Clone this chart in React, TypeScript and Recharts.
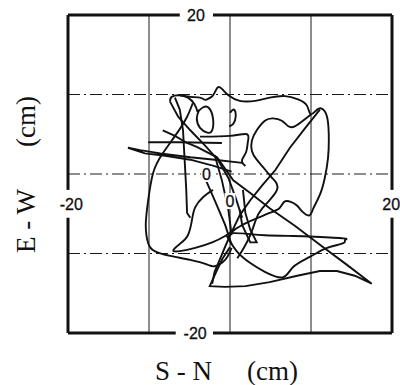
import { LineChart, Line, XAxis, YAxis, ReferenceLine, ReferenceDot } from "recharts";

// trajectory of the displacement, split into the strokes (cm)
const topArcRightLobe = [
  { x: -3.1, y: 9.3 }, { x: -2.1, y: 9.9 }, { x: -1.5, y: 10.9 }, { x: -0.9, y: 10.6 },
  { x: -0.2, y: 9.9 }, { x: 1.2, y: 9.2 }, { x: 3.1, y: 9.2 }, { x: 4.9, y: 9.6 },
  { x: 6.8, y: 9.8 }, { x: 8.4, y: 9.4 }, { x: 9.5, y: 8.6 }, { x: 10.0, y: 7.5 },
  { x: 10.9, y: 8.2 }, { x: 11.7, y: 7.9 }, { x: 12.1, y: 6.5 }, { x: 12.2, y: 4.3 },
  { x: 12.1, y: 2.0 }, { x: 11.7, y: -0.5 }, { x: 11.1, y: -2.6 }, { x: 10.3, y: -4.3 },
  { x: 9.8, y: -5.2 }, { x: 9.0, y: -4.8 }, { x: 8.3, y: -4.0 }, { x: 7.5, y: -3.5 },
  { x: 6.7, y: -3.5 }, { x: 6.1, y: -4.3 }, { x: 4.9, y: -4.9 }, { x: 3.5, y: -5.5 },
  { x: 1.9, y: -6.2 }, { x: 0.2, y: -7.2 },
];

const innerWave = [
  { x: 10.0, y: 7.5 }, { x: 9.0, y: 6.7 }, { x: 8.0, y: 6.0 }, { x: 7.2, y: 6.0 },
  { x: 6.4, y: 6.7 }, { x: 5.3, y: 7.0 }, { x: 4.3, y: 6.7 }, { x: 3.3, y: 5.5 },
  { x: 2.7, y: 4.2 }, { x: 2.7, y: 2.9 }, { x: 3.3, y: 1.8 }, { x: 4.3, y: 0.6 },
  { x: 5.2, y: -0.5 }, { x: 5.8, y: -2.0 }, { x: 4.0, y: -4.3 }, { x: 3.1, y: -6.0 },
  { x: 2.5, y: -7.7 }, { x: 1.7, y: -9.3 }, { x: 0.9, y: -10.6 },
];

const lobeDiagonal = [
  { x: 11.1, y: 8.1 }, { x: 9.3, y: 5.8 }, { x: 7.4, y: 3.3 }, { x: 5.6, y: 0.5 },
  { x: 4.0, y: -1.4 }, { x: 2.5, y: -3.3 }, { x: 1.2, y: -5.2 }, { x: 0.2, y: -7.3 },
  { x: -0.5, y: -8.9 }, { x: -1.2, y: -10.6 }, { x: -1.9, y: -12.3 }, { x: -2.2, y: -13.8 },
];

const longDiagonal = [
  { x: -8.3, y: 5.5 }, { x: -6.8, y: 4.8 }, { x: -5.3, y: 3.9 }, { x: -4.1, y: 3.4 },
  { x: -1.6, y: 2.1 }, { x: 0.4, y: -0.8 }, { x: 2.5, y: -2.4 }, { x: 4.9, y: -4.3 },
  { x: 8.0, y: -6.5 }, { x: 11.1, y: -8.9 }, { x: 14.4, y: -11.4 }, { x: 17.5, y: -13.8 },
  { x: 15.4, y: -12.8 }, { x: 13.2, y: -12.2 }, { x: 11.1, y: -12.2 }, { x: 8.3, y: -12.8 },
  { x: 4.9, y: -13.6 }, { x: 1.9, y: -14.1 }, { x: -0.6, y: -14.2 }, { x: -2.5, y: -14.1 },
  { x: -1.6, y: -12.1 }, { x: -0.9, y: -10.6 }, { x: 0, y: -9.2 },
];

const fishRight = [
  { x: -0.4, y: -7.8 }, { x: 0.9, y: -9.8 }, { x: 2.5, y: -11.2 }, { x: 4.3, y: -12.3 },
  { x: 6.5, y: -13.0 }, { x: 7.8, y: -11.7 }, { x: 9.9, y: -10.4 }, { x: 12.0, y: -9.3 },
  { x: 14.0, y: -8.7 }, { x: 14.2, y: -8.3 }, { x: 14.0, y: -8.1 }, { x: 10.5, y: -7.9 },
  { x: 7.8, y: -7.8 }, { x: 4.3, y: -7.7 }, { x: 1.9, y: -7.5 }, { x: 0, y: -7.4 },
];

const leftLoop = [
  { x: -4.6, y: 8.9 }, { x: -5.3, y: 7.2 }, { x: -6.5, y: 5.2 }, { x: -8.3, y: 2.6 },
  { x: -9.5, y: 0.1 }, { x: -10.1, y: -3.3 }, { x: -10.4, y: -6.4 }, { x: -10.1, y: -8.7 },
  { x: -9.3, y: -9.7 }, { x: -7.4, y: -10.3 }, { x: -4.9, y: -10.8 }, { x: -2.8, y: -11.4 },
  { x: -1.9, y: -11.6 }, { x: -0.6, y: -10.8 }, { x: 0.2, y: -9.3 },
];

const fishLeft = [
  { x: -2.1, y: -2.0 }, { x: -3.3, y: -2.9 }, { x: -4.3, y: -4.2 }, { x: -4.7, y: -5.8 },
  { x: -5.2, y: -7.7 }, { x: -6.2, y: -8.8 }, { x: -7.0, y: -9.6 }, { x: -6.2, y: -9.7 },
  { x: -4.3, y: -9.3 }, { x: -2.2, y: -8.6 }, { x: -0.6, y: -7.8 }, { x: 0.6, y: -7.0 },
];

const leftVertical = [
  { x: -6.8, y: 9.6 }, { x: -6.2, y: 8.1 }, { x: -5.8, y: 5.5 }, { x: -5.6, y: 1.8 },
  { x: -5.4, y: -2.0 }, { x: -5.3, y: -4.9 }, { x: -4.9, y: -5.5 },
];

const topLeftLoop = [
  { x: -7.4, y: 9.1 }, { x: -7.2, y: 9.7 }, { x: -6.2, y: 9.9 }, { x: -5.2, y: 9.6 },
  { x: -4.4, y: 8.8 }, { x: -4.0, y: 7.8 },
];

const smallEllipse = [
  { x: -4.0, y: 7.8 }, { x: -3.3, y: 8.4 }, { x: -2.6, y: 8.3 }, { x: -2.1, y: 7.0 },
  { x: -2.2, y: 5.5 }, { x: -2.8, y: 5.2 }, { x: -3.7, y: 5.8 }, { x: -4.1, y: 7.0 },
  { x: -3.8, y: 8.1 },
];

const centreCrossing = [
  { x: -7.4, y: 9.1 }, { x: -6.4, y: 7.2 }, { x: -4.9, y: 5.5 }, { x: -3.1, y: 3.6 },
  { x: -1.5, y: 1.8 }, { x: -0.2, y: -0.5 }, { x: 0.7, y: -3.0 }, { x: 1.5, y: -5.5 },
];

const spike = [
  { x: 1.5, y: 1.4 }, { x: -1.9, y: 1.8 }, { x: -4.9, y: 2.1 }, { x: -8.6, y: 2.6 },
  { x: -11.1, y: 3.0 }, { x: -12.6, y: 3.3 }, { x: -10.5, y: 2.6 }, { x: -8.0, y: 2.3 },
  { x: -4.9, y: 1.8 }, { x: -1.9, y: 1.0 }, { x: 0.2, y: 0.3 },
];

const flatLeft = [{ x: -10.1, y: 4.0 }, { x: -6.2, y: 4.0 }, { x: -1.0, y: 3.9 }];

const boxHook = [
  { x: -3.7, y: 4.7 }, { x: 0, y: 4.8 }, { x: 2.1, y: 5.0 }, { x: 2.2, y: 4.0 },
  { x: 2.0, y: 2.8 }, { x: 1.5, y: 1.8 }, { x: 1.6, y: 1.3 }, { x: 1.9, y: 1.0 },
];

const smallBump = [
  { x: 0, y: 7.7 }, { x: 0.5, y: 8.1 }, { x: 0.7, y: 7.2 }, { x: 0.4, y: 6.3 }, { x: -0.1, y: 6.0 },
];

const earToLoop = [
  { x: -6.2, y: 9.9 }, { x: -4.9, y: 9.7 }, { x: -3.7, y: 9.6 }, { x: -3.1, y: 9.3 },
];

const centreLineA = [{ x: -3.1, y: -0.5 }, { x: -1.9, y: -3.3 }, { x: -0.6, y: -6.4 }, { x: 0.2, y: -8.9 }];
const centreLineB = [{ x: -1.9, y: 2.4 }, { x: -1.0, y: -0.8 }, { x: -0.2, y: -4.5 }, { x: 0.2, y: -7.7 }];

const triangle = [
  { x: 1.6, y: -2.0 }, { x: 1.9, y: -4.9 }, { x: 2.5, y: -7.0 }, { x: 3.3, y: -8.6 },
  { x: 2.5, y: -8.6 }, { x: 1.5, y: -6.4 }, { x: 1.2, y: -4.5 },
];

const curvedStrokes = [topArcRightLobe, innerWave, fishRight, leftLoop, fishLeft, topLeftLoop, smallEllipse, smallBump, boxHook, earToLoop];
const straightStrokes = [lobeDiagonal, longDiagonal, leftVertical, centreCrossing, spike, flatLeft, centreLineA, centreLineB, triangle];

const gridValues = [-10, 0, 10];

const tickLabels = [
  { x: -4.2, y: 20, text: "20" },
  { x: -4.3, y: -20, text: "-20" },
  { x: -19.6, y: -3.8, text: "-20" },
  { x: 19.9, y: -3.8, text: "20" },
  { x: 0, y: -3.4, text: "0" },
  { x: -2.9, y: 0, text: "0" },
];

function TickMark(props: any) {
  const { cx, cy, text } = props;
  const w = text.length * 9 + 2;
  return (
    <g>
      <rect x={cx - w / 2} y={cy - 8} width={w} height={16} fill="#fff" />
      <text x={cx} y={cy + 6} textAnchor="middle" fontSize={16} fill="#111"
        stroke="#111" strokeWidth={0.3}
        fontFamily="'Liberation Sans', Arial, sans-serif">{text}</text>
    </g>
  );
}

const frame = { stroke: "#111", strokeWidth: 3 };

export default function App() {
  return (
    <div style={{ position: "absolute", left: 0, top: 0, width: 400, height: 385, background: "#fff" }}>
      <LineChart width={400} height={385} margin={{ top: 15, right: 8, bottom: 52, left: 68 }}>
        <XAxis type="number" dataKey="x" domain={[-20, 20]} hide allowDataOverflow />
        <YAxis type="number" dataKey="y" domain={[-20, 20]} hide allowDataOverflow />
        {gridValues.map((v) => (
          <ReferenceLine key={"v" + v} x={v} stroke="#1a1a1a" strokeWidth={1} />
        ))}
        {gridValues.map((v) => (
          <ReferenceLine key={"h" + v} y={v} stroke="#1a1a1a" strokeWidth={1} strokeDasharray="12 4 2 4" />
        ))}
        <ReferenceLine segment={[{ x: -20, y: 20 }, { x: -6.2, y: 20 }]} {...frame} />
        <ReferenceLine segment={[{ x: -2.1, y: 20 }, { x: 20, y: 20 }]} {...frame} />
        <ReferenceLine segment={[{ x: -20, y: -20 }, { x: -6.7, y: -20 }]} {...frame} />
        <ReferenceLine segment={[{ x: -2.1, y: -20 }, { x: 20, y: -20 }]} {...frame} />
        <ReferenceLine segment={[{ x: -20, y: 20 }, { x: -20, y: -2.0 }]} {...frame} />
        <ReferenceLine segment={[{ x: -20, y: -5.5 }, { x: -20, y: -20 }]} {...frame} />
        <ReferenceLine segment={[{ x: 20, y: 20 }, { x: 20, y: -2.0 }]} {...frame} />
        <ReferenceLine segment={[{ x: 20, y: -5.5 }, { x: 20, y: -20 }]} {...frame} />
        {tickLabels.map((t, i) => (
          <ReferenceDot key={"t" + i} x={t.x} y={t.y} r={0}
            shape={(p: any) => <TickMark {...p} text={t.text} />} />
        ))}
        {curvedStrokes.map((s, i) => (
          <Line key={"c" + i} data={s} dataKey="y" type="natural" dot={false}
            stroke="#111" strokeWidth={1.9} isAnimationActive={false} />
        ))}
        {straightStrokes.map((s, i) => (
          <Line key={"s" + i} data={s} dataKey="y" type="linear" dot={false}
            stroke="#111" strokeWidth={1.9} isAnimationActive={false} />
        ))}
      </LineChart>
      <svg width={400} height={385} style={{ position: "absolute", left: 0, top: 0, pointerEvents: "none" }}>
        <g fontFamily="'Liberation Serif', 'Times New Roman', serif" fontSize={27} fill="#111">
          <text x={155} y={380}>S - N</text>
          <text x={247} y={380}>(cm)</text>
          <text x={35} y={253} transform="rotate(-90 35 253)">E - W</text>
          <text x={35} y={147} transform="rotate(-90 35 147)">(cm)</text>
        </g>
      </svg>
    </div>
  );
}
